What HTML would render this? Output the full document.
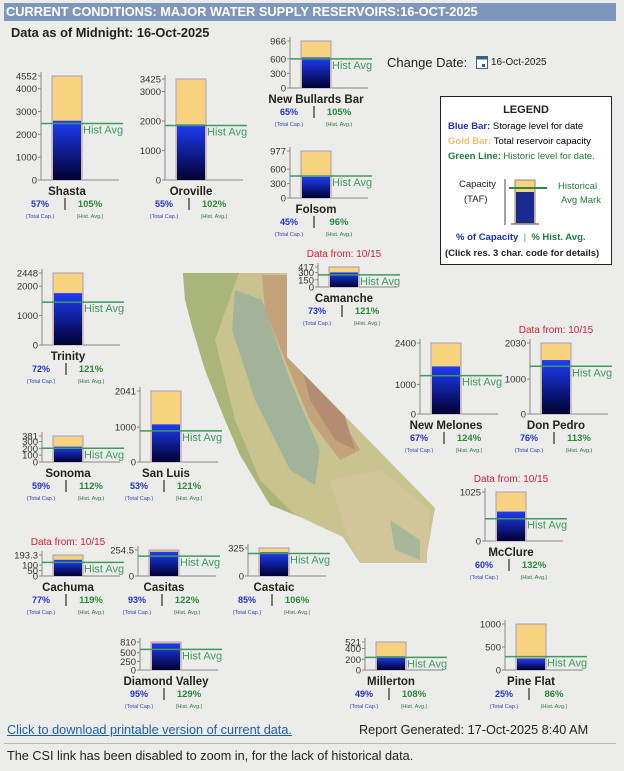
<!DOCTYPE html>
<html><head><meta charset="utf-8">
<style>
body{margin:0;width:624px;height:771px;background:#ececea;font-family:"Liberation Sans",Arial,sans-serif;position:relative;overflow:hidden}
.t{position:absolute;white-space:nowrap}
#title{position:absolute;left:4px;top:3px;width:610px;height:18px;background:#7e97ba;color:#fff;font-weight:bold;font-size:12.8px;line-height:18px;padding-left:2px}
#legend{position:absolute;left:440px;top:96px;width:170px;height:167px;background:#fff;border:1px solid #222;font-size:9.5px}
</style></head><body>
<div id="title">CURRENT CONDITIONS: MAJOR WATER SUPPLY RESERVOIRS:16-OCT-2025</div>
<div class="t" style="left:11px;top:25px;font-size:12.8px;font-weight:bold;color:#222">Data as of Midnight: 16-Oct-2025</div>
<div class="t" style="left:387px;top:55px;font-size:13px;color:#222">Change Date:</div>
<svg style="position:absolute;left:476px;top:56px" width="12" height="13"><rect x="0.5" y="0.5" width="11" height="12" fill="#fff" stroke="#3a5f8f"/><rect x="0.5" y="0.5" width="11" height="3" fill="#3a5f8f"/><rect x="6" y="8" width="3" height="3" fill="#3a5f8f"/></svg>
<div class="t" style="left:491px;top:57px;font-size:10px;color:#222">16-Oct-2025</div>

<svg id="map" style="position:absolute;left:0;top:0" width="624" height="771">
<defs>
<clipPath id="ca"><path d="M183,273 L287,273 L287,357 L435,508 L427,553 L427,563 L360,563 L343,537 L300,517 L270,505 L255,480 L240,455 L225,420 L215,395 L205,370 L193,330 L185,300 Z"/></clipPath>
</defs>
<g clip-path="url(#ca)">
<rect x="180" y="270" width="260" height="300" fill="#c9c38f"/>
<path d="M180,270 L240,270 L215,340 L235,420 L260,480 L300,520 L250,520 L200,400 L180,320 Z" fill="#a9b57a"/>
<path d="M235,290 L262,300 L290,380 L320,450 L315,485 L290,470 L255,400 L232,330 Z" fill="#a3b39a"/>
<path d="M262,275 L287,275 L287,357 L330,400 L360,450 L340,460 L310,420 L285,360 L265,310 Z" fill="#c4a27a"/>
<path d="M300,360 L340,400 L355,450 L335,440 L310,400 Z" fill="#b48c72"/>
<path d="M330,480 L380,470 L430,510 L427,563 L360,563 L345,530 Z" fill="#d2c59a"/>
<path d="M390,520 L420,540 L420,560 L395,550 Z" fill="#a8b89a"/>
</g>
</svg>

<div id="legend">
<div class="t" style="left:0;width:170px;text-align:center;top:7px;font-size:11px;font-weight:bold;color:#222">LEGEND</div>
<div class="t" style="left:7px;top:24px"><b style="color:#1a2fc0">Blue Bar:</b> Storage level for date</div>
<div class="t" style="left:7px;top:39px"><b style="color:#eac070">Gold Bar:</b> Total reservoir capacity</div>
<div class="t" style="left:7px;top:54px;color:#1f7a3a"><b>Green Line:</b> Historic level for date.</div>
<div class="t" style="left:18px;top:82px;color:#222">Capacity</div>
<div class="t" style="left:23px;top:97px;color:#222">(TAF)</div>
<svg style="position:absolute;left:60px;top:80px" width="60" height="50"><line x1="4" y1="2" x2="4" y2="48" stroke="#444"/><rect x="14" y="3" width="20" height="44" fill="#f7d27f" stroke="#888"/><rect x="15" y="15" width="18" height="31" fill="#1a2a90"/><line x1="8" y1="11" x2="46" y2="11" stroke="#2a8a4a" stroke-width="2"/><line x1="10" y1="47" x2="38" y2="47" stroke="#444"/></svg>
<div class="t" style="left:117px;top:84px;color:#1f7a3a">Historical</div>
<div class="t" style="left:120px;top:98px;color:#1f7a3a">Avg Mark</div>
<div class="t" style="left:15px;top:135px;font-weight:bold;color:#1a2fc0">% of Capacity <span style="color:#888;font-weight:normal">&nbsp;|&nbsp;</span> <span style="color:#1f7a3a">% Hist. Avg.</span></div>
<div class="t" style="left:4px;top:151px;font-weight:bold;color:#222">(Click res. 3 char. code for details)</div>
</div>

<div class="t" style="left:7px;top:723px;font-size:12.7px;color:#1a5fb0;text-decoration:underline">Click to download printable version of current data.</div>
<div class="t" style="left:359px;top:723px;font-size:12.7px;color:#222">Report Generated: 17-Oct-2025 8:40 AM</div>
<div style="position:absolute;left:4px;top:743px;width:612px;height:1px;background:#bbb"></div>
<div class="t" style="left:7px;top:749px;font-size:12.7px;color:#222">The CSI link has been disabled to zoom in, for the lack of historical data.</div>

<script>
const names=["Shasta","Oroville","New Bullards Bar","Folsom","Camanche","Trinity","Sonoma","San Luis","New Melones","Don Pedro","McClure","Cachuma","Casitas","Castaic","Diamond Valley","Millerton","Pine Flat"];
const capacity=[4552,3425,966,977,417,2448,381,2041,2400,2030,1025,193.3,254.5,325,810,521,1000];
const storage=[2595,1884,628,440,304,1763,225,1082,1608,1543,615,149,237,276,770,255,250];
const histAvg=[2471,1847,598,458,252,1457,201,894,1297,1365,466,125,194,261,597,236,291];
const pctCap=[57,55,65,45,73,72,59,53,67,76,60,77,93,85,95,49,25];
const pctHist=[105,102,105,96,121,121,112,121,124,113,132,119,122,106,129,108,86];
const ticks=[[4000,3000,2000,1000,0],[3000,2000,1000,0],[600,300,0],[600,300,0],[300,150,0],[2000,1000,0],[300,200,100,0],[1000,0],[1000,0],[1000,0],[0],[100,50,0],[0],[0],[500,250,0],[400,200,0],[500,0]];
const dataFrom=[null,null,null,null,"10/15",null,null,null,null,"10/15","10/15","10/15",null,null,null,null,null];
// layout: axis x, baseline y, plot height in px
const layoutX=[41,165,290,290,318,42,42,140,420,530,485,42,138,248,140,365,505];
const layoutY=[180,180,88,198,287,345,462,462,414,414,541,576,576,576,670,670,670];
const layoutH=[104,101,47,47,20,72,26,71,71,71,49,21,26,28,28,28,46];

const NS="http://www.w3.org/2000/svg";
const svg=document.createElementNS(NS,"svg");
svg.setAttribute("width","624");svg.setAttribute("height","771");
svg.setAttribute("style","position:absolute;left:0;top:0");


svg.innerHTML='<defs><linearGradient id="bl" x1="0" y1="0" x2="0" y2="1"><stop offset="0" stop-color="#1e3cf5"/><stop offset="1" stop-color="#000030"/></linearGradient></defs>';
document.body.appendChild(svg);
function el(tag,attrs,parent){const e=document.createElementNS(NS,tag);for(const k in attrs)e.setAttribute(k,attrs[k]);(parent||svg).appendChild(e);return e;}
function txt(x,y,s,attrs,parent){const e=el("text",Object.assign({x:x,y:y,"font-family":"Liberation Sans, Arial, sans-serif"},attrs),parent);e.textContent=s;return e;}

names.forEach((nm,i)=>{
  const X=layoutX[i],Y=layoutY[i],H=layoutH[i];
  const ys=v=>Y-v/capacity[i]*H;
  const g=el("g",{});
  
  
  const bx=X+11,bw=30,cx=bx+bw/2;
  el("line",{x1:X,y1:Y,x2:X,y2:ys(capacity[i])-4,stroke:"#888"},g);
  el("line",{x1:X,y1:Y,x2:X+78,y2:Y,stroke:"#888"},g);
  const tk=[capacity[i]].concat(ticks[i]);
  tk.forEach(t=>{const y=ys(t);el("line",{x1:X-3,y1:y,x2:X,y2:y,stroke:"#888"},g);
    const lab=txt(X-4,y+3.5,String(t),{"font-size":"9.5","text-anchor":"end",fill:"#333"},g);
    
    });
  const cap=el("rect",{x:bx,y:ys(capacity[i]),width:bw,height:Y-ys(capacity[i]),fill:"#f7d27f",stroke:"#a89ab8"},g);
  
  
  const st=el("rect",{x:bx+1,y:ys(storage[i]),width:bw-2,height:Y-ys(storage[i]),fill:"url(#bl)"},g);
  
  
  const hy=ys(histAvg[i]);
  const hl=el("line",{x1:X,y1:hy,x2:X+82,y2:hy,stroke:"#3e9a5e","stroke-width":"1.5"},g);
  
  
  txt(bx+bw+1,hy+10,"Hist Avg",{"font-size":"11",fill:"#3e9a5e"},g);
  txt(cx,Y+15,nm,{"font-size":"11.5","font-weight":"bold","text-anchor":"middle",fill:"#222"},g);
  txt(cx-27,Y+27,pctCap[i]+"%",{"font-size":"9","font-weight":"bold","text-anchor":"middle",fill:"#2233cc"},g);
  el("line",{x1:cx-2,y1:Y+18,x2:cx-2,y2:Y+30,stroke:"#555","stroke-width":"1.5"},g);
  txt(cx+23,Y+27,pctHist[i]+"%",{"font-size":"9.5","font-weight":"bold","text-anchor":"middle",fill:"#2a8a3a"},g);
  txt(cx-27,Y+38,"(Total Cap.)",{"font-size":"5.5","text-anchor":"middle",fill:"#3344bb"},g);
  txt(cx+23,Y+38,"(Hist. Avg.)",{"font-size":"5.5","text-anchor":"middle",fill:"#2a7a3a"},g);
  if(dataFrom[i]){const d=txt(cx,ys(capacity[i])-10,"Data from: "+dataFrom[i],{"font-size":"10","text-anchor":"middle",fill:"#d0203a"},g);
    
    }
});
</script>
</body></html>
